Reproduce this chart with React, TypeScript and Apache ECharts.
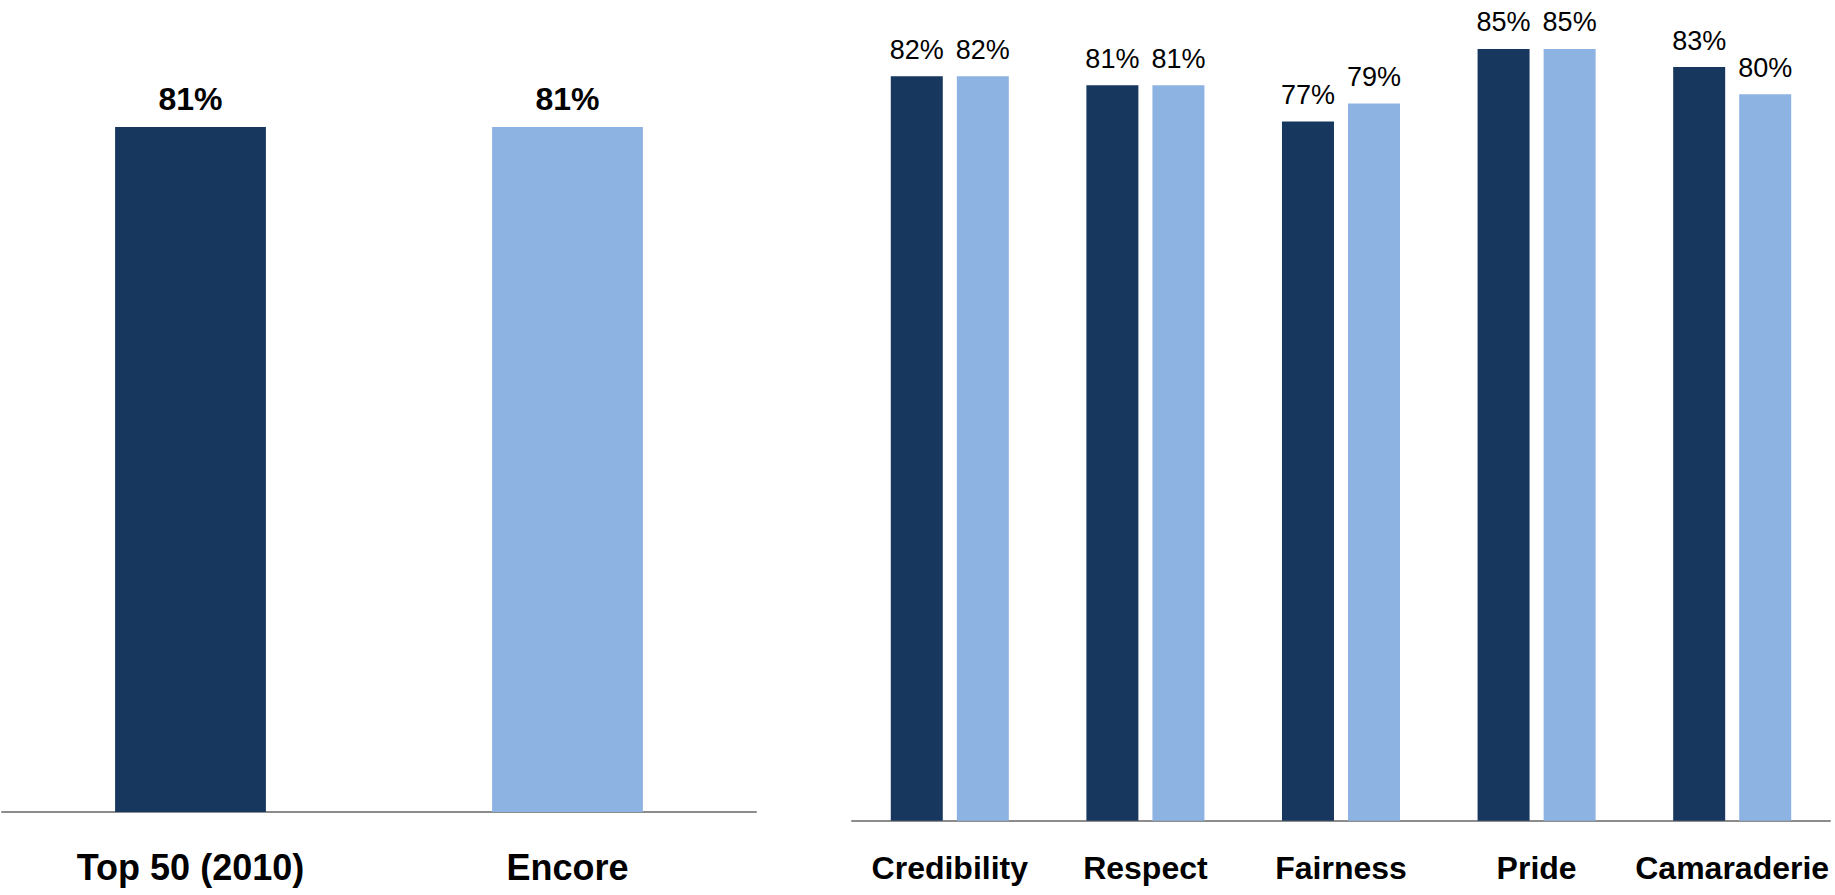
import React, { useEffect, useRef } from "react";
import * as echarts from "echarts";

const leftCategories = ["Top 50 (2010)", "Encore"];
const leftValues = [81, 81];

const rightCategories = ["Credibility", "Respect", "Fairness", "Pride", "Camaraderie"];
const top50Values = [82, 81, 77, 85, 83];
const encoreValues = [82, 81, 79, 85, 80];

const DARK = "#17375E";
const LIGHT = "#8DB3E2";
const FONT = "'Liberation Sans', Arial, Helvetica, sans-serif";

export default function App() {
  const ref = useRef<HTMLDivElement>(null);

  useEffect(() => {
    if (!ref.current) return;
    const chart = echarts.init(ref.current, undefined, { renderer: "svg" });
    const axisLine = { show: true, lineStyle: { color: "#8C8C8C", width: 2 } };
    const hiddenY = {
      min: 0,
      max: 90,
      show: false,
      splitLine: { show: false },
    };
    chart.setOption({
      animation: false,
      backgroundColor: "#ffffff",
      grid: [
        { left: 2, right: 1079, top: 51, bottom: 83 },
        { left: 852, right: 5, top: 3.5, bottom: 74.3 },
      ],
      xAxis: [
        {
          type: "category",
          gridIndex: 0,
          data: leftCategories,
          axisLine,
          axisTick: { show: false },
          axisLabel: {
            margin: 37,
            fontSize: 36,
            fontWeight: "bold",
            color: "#000",
            fontFamily: FONT,
          },
        },
        {
          type: "category",
          gridIndex: 1,
          data: rightCategories,
          axisLine,
          axisTick: { show: false },
          axisLabel: {
            margin: 31,
            fontSize: 32,
            fontWeight: "bold",
            color: "#000",
            fontFamily: FONT,
            interval: 0,
          },
        },
      ],
      yAxis: [
        { type: "value", gridIndex: 0, ...hiddenY },
        { type: "value", gridIndex: 1, ...hiddenY },
      ],
      series: [
        {
          type: "bar",
          xAxisIndex: 0,
          yAxisIndex: 0,
          barWidth: "40%",
          data: leftValues.map((v, i) => ({
            value: v,
            itemStyle: { color: i === 0 ? DARK : LIGHT },
          })),
          label: {
            show: true,
            position: "top",
            distance: 12,
            formatter: "{c}%",
            fontSize: 32,
            fontWeight: "bold",
            color: "#000",
            fontFamily: FONT,
          },
        },
        {
          type: "bar",
          name: "Top 50 (2010)",
          xAxisIndex: 1,
          yAxisIndex: 1,
          barWidth: 52,
          barGap: "27%",
          data: top50Values,
          itemStyle: { color: DARK },
          label: {
            show: true,
            position: "top",
            distance: 13,
            formatter: "{c}%",
            fontSize: 27,
            color: "#000",
            fontFamily: FONT,
          },
        },
        {
          type: "bar",
          name: "Encore",
          xAxisIndex: 1,
          yAxisIndex: 1,
          barWidth: 52,
          barGap: "27%",
          data: encoreValues,
          itemStyle: { color: LIGHT },
          label: {
            show: true,
            position: "top",
            distance: 13,
            formatter: "{c}%",
            fontSize: 27,
            color: "#000",
            fontFamily: FONT,
          },
        },
      ],
    });
    return () => chart.dispose();
  }, []);

  return (
    <div
      ref={ref}
      style={{ position: "fixed", left: 0, top: 0, width: 1835, height: 895 }}
    />
  );
}
